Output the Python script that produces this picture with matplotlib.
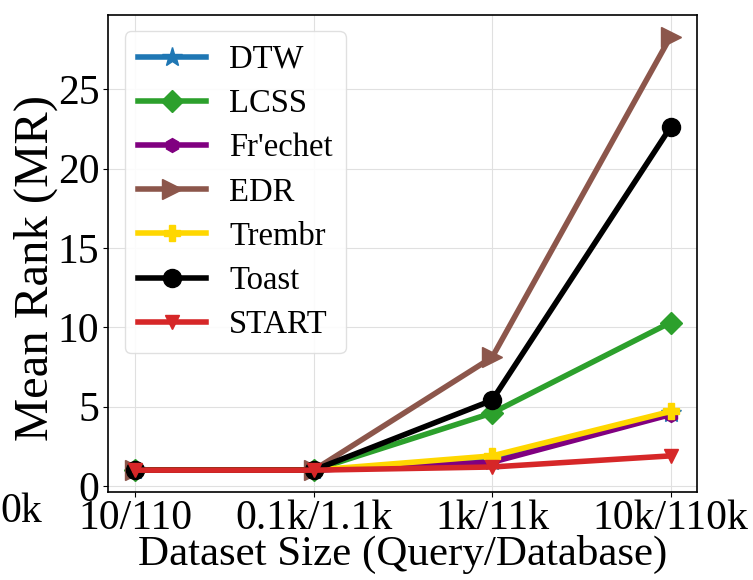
import matplotlib
matplotlib.use("Agg")
import matplotlib.pyplot as plt

plt.rcParams['font.family'] = ['Liberation Serif', 'DejaVu Serif']

x_labels = ['10/110', '0.1k/1.1k', '1k/11k', '10k/110k']
methods = ['DTW', 'LCSS', "Fr'echet", 'EDR', 'Trembr', 'Toast', 'START']
dtw = [1.0, 1.0, 1.6, 4.6]
lcss = [1.0, 1.0, 4.6, 10.3]
frechet = [1.0, 1.0, 1.5, 4.5]
edr = [1.0, 1.0, 8.1, 28.3]
trembr = [1.0, 1.0, 1.9, 4.7]
toast = [1.0, 1.0, 5.4, 22.6]
start = [1.0, 1.0, 1.2, 1.9]

series = [dtw, lcss, frechet, edr, trembr, toast, start]
colors = ['#1f77b4', '#2ca02c', 'purple', '#8c564b', 'gold', 'black', '#d62728']
markers = ['*', 'D', 'h', '>', 'P', 'o', 'v']
msizes = [15, 11, 10, 14, 11, 13, 10]

fig = plt.figure(figsize=(7.53, 5.8), dpi=100)
ax = fig.add_axes([0.144, 0.152, 0.782, 0.822])
xs = list(range(len(x_labels)))
for vals, name, c, m, ms in zip(series, methods, colors, markers, msizes):
    ax.plot(xs, vals, color=c, marker=m, markersize=ms, linewidth=4.0, label=name)

ax.set_xticks(xs)
ax.set_xticklabels(x_labels, fontsize=30)
ax.set_yticks([0, 5, 10, 15, 20, 25])
ax.tick_params(axis='y', labelsize=30, pad=3)
ax.tick_params(axis='x', pad=2)
ax.set_xlabel('Dataset Size (Query/Database)', fontsize=31)
ax.xaxis.set_label_coords(0.5, -0.09)
ax.set_ylabel('Mean Rank (MR)', fontsize=35)
ax.yaxis.set_label_coords(-0.085, 0.47)
ax.grid(True, color='#e0e0e0', linewidth=0.8)
ax.set_axisbelow(True)
for s in ax.spines.values():
    s.set_linewidth(1.2)
leg = ax.legend(loc='upper left', fontsize=23.5, handlelength=2.1, labelspacing=0.42,
                handletextpad=0.7, borderpad=0.4, framealpha=0.9, edgecolor='#dddddd')
fig.text(0.0, 0.117, '0k', fontsize=30, ha='left', va='center')

fig.savefig('out.png', dpi=100)
